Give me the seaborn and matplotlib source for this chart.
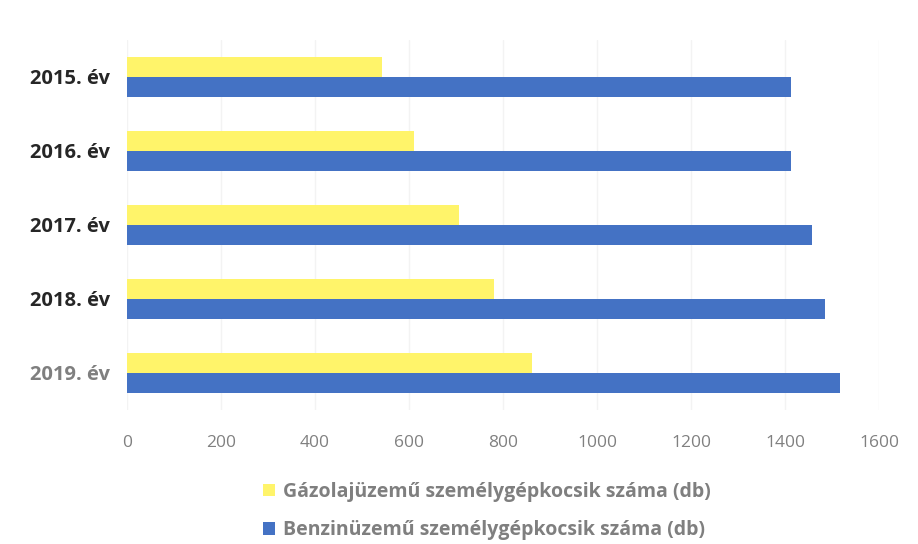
import matplotlib
matplotlib.use("Agg")
import matplotlib.pyplot as plt
from matplotlib.patches import Patch
import seaborn as sns
import pandas as pd

years = ["2015. év", "2016. év", "2017. év", "2018. év", "2019. év"]
diesel = [543, 611, 706, 781, 862]
petrol = [1413, 1413, 1457, 1485, 1517]
series_names = ["Gázolajüzemű személygépkocsik száma (db)",
                "Benzinüzemű személygépkocsik száma (db)"]
x_ticks = [0, 200, 400, 600, 800, 1000, 1200, 1400, 1600]
colors = ["#FFF46A", "#4472C4"]

df = pd.DataFrame({
    "year": years * 2,
    "value": diesel + petrol,
    "series": [series_names[0]] * len(years) + [series_names[1]] * len(years),
})

sns.set_theme(style="white")
plt.rcParams["font.family"] = ["Open Sans", "DejaVu Sans"]

fig = plt.figure(figsize=(9.18, 5.44), dpi=100)
ax = fig.add_axes([127 / 918, 1 - 410 / 544, (879 - 127) / 918, 370 / 544])

sns.barplot(data=df, x="value", y="year", hue="series", hue_order=series_names,
            palette=colors, orient="h", width=0.55, saturation=1, ax=ax,
            legend=False, linewidth=0)

ax.set_xlim(0, 1600)
ax.set_xticks(x_ticks)
ax.set_xticklabels([str(t) for t in x_ticks], color="#808080", fontsize=12.5)
ax.set_xlabel("")
ax.set_ylabel("")
ax.tick_params(axis="x", length=0, pad=18)
ax.tick_params(axis="y", length=0, pad=12)
for lbl in ax.get_yticklabels():
    lbl.set_fontsize(14.5)
    lbl.set_fontweight("bold")
    lbl.set_color("#262626")
ax.get_yticklabels()[-1].set_color("#7f7f7f")

ax.xaxis.grid(True, color="#f3f3f3", linewidth=1)
ax.set_axisbelow(True)
for s in ax.spines.values():
    s.set_visible(False)

handles = [Patch(facecolor=c, edgecolor="none") for c in colors]
leg = fig.legend(handles, series_names, loc="center", bbox_to_anchor=(487 / 918, 1 - 511 / 544),
                 ncol=1, frameon=False, handlelength=0.6, handleheight=0.6,
                 handletextpad=0.4, labelspacing=0.95,
                 prop={"size": 14, "weight": "bold"})
for t in leg.get_texts():
    t.set_color("#7f7f7f")

fig.savefig("out.png", dpi=100, facecolor="white")
